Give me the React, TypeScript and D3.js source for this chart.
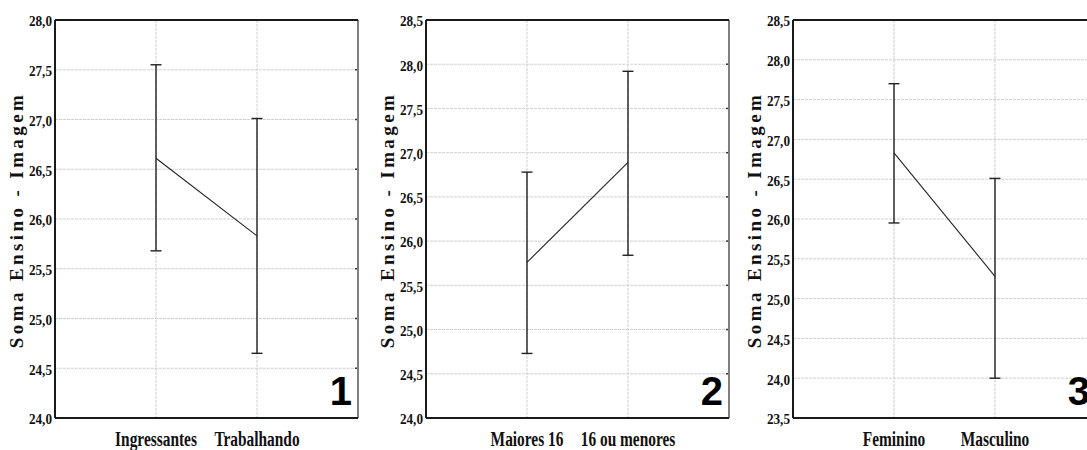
import React from 'react';
import * as d3 from 'd3';

// panel 1
const cats1 = ['Ingressantes', 'Trabalhando'];
const mean1 = [26.61, 25.83];
const upper1 = [27.55, 27.01];
const lower1 = [25.68, 24.65];
const ticks1 = [24.0, 24.5, 25.0, 25.5, 26.0, 26.5, 27.0, 27.5, 28.0];

// panel 2
const cats2 = ['Maiores 16', '16 ou menores'];
const mean2 = [25.76, 26.89];
const upper2 = [26.78, 27.92];
const lower2 = [24.73, 25.84];
const ticks2 = [24.0, 24.5, 25.0, 25.5, 26.0, 26.5, 27.0, 27.5, 28.0, 28.5];

// panel 3
const cats3 = ['Feminino', 'Masculino'];
const mean3 = [26.83, 25.28];
const upper3 = [27.7, 26.51];
const lower3 = [25.95, 24.0];
const ticks3 = [23.5, 24.0, 24.5, 25.0, 25.5, 26.0, 26.5, 27.0, 27.5, 28.0, 28.5];

const yTitle = 'Soma Ensino - Imagem';

const panels = [
  { cats: cats1, mean: mean1, upper: upper1, lower: lower1, ticks: ticks1, num: '1', left: 55 },
  { cats: cats2, mean: mean2, upper: upper2, lower: lower2, ticks: ticks2, num: '2', left: 426 },
  { cats: cats3, mean: mean3, upper: upper3, lower: lower3, ticks: ticks3, num: '3', left: 793 },
];

const top = 20;
const bottom = 418;
const boxW = 303;
const fmt = (v: number) => v.toFixed(1).replace('.', ',');

function Panel({ p }: { p: typeof panels[0] }) {
  const right = p.left + boxW;
  const y = d3
    .scaleLinear()
    .domain([p.ticks[0], p.ticks[p.ticks.length - 1]])
    .range([bottom, top]);
  const x = d3.scalePoint<string>().domain(p.cats).range([p.left, right]).padding(1);

  const line = d3
    .line<number>()
    .x((d, i) => x(p.cats[i]) as number)
    .y((d) => y(d));

  return (
    <g>
      {/* grid */}
      {p.ticks.slice(1, -1).map((t) => (
        <line key={'h' + t} x1={p.left} x2={right} y1={y(t)} y2={y(t)}
          stroke="#cfcfcf" strokeWidth={1} strokeDasharray="3,1" />
      ))}
      {p.cats.map((c) => (
        <line key={'v' + c} x1={x(c)} x2={x(c)} y1={top} y2={bottom}
          stroke="#cfcfcf" strokeWidth={1} strokeDasharray="3,1" />
      ))}
      {/* right side little ticks */}
      {p.ticks.slice(1, -1).map((t) => (
        <line key={'r' + t} x1={right - 3} x2={right} y1={y(t)} y2={y(t)} stroke="#333" strokeWidth={1.5} />
      ))}

      {/* frame */}
      <line x1={right} x2={right} y1={top} y2={bottom} stroke="#808080" strokeWidth={2} />
      <line x1={p.left} x2={right} y1={top} y2={top} stroke="#1a1a1a" strokeWidth={2} />
      <line x1={p.left} x2={right} y1={bottom} y2={bottom} stroke="#1a1a1a" strokeWidth={2} />
      <line x1={p.left} x2={p.left} y1={top} y2={bottom} stroke="#1a1a1a" strokeWidth={2} />

      {/* error bars */}
      {p.cats.map((c, i) => {
        const cx = x(c) as number;
        return (
          <g key={'e' + c} stroke="#222" strokeWidth={1.4}>
            <line x1={cx} x2={cx} y1={y(p.lower[i])} y2={y(p.upper[i])} />
            <line x1={cx - 5.5} x2={cx + 5.5} y1={y(p.upper[i])} y2={y(p.upper[i])} />
            <line x1={cx - 5.5} x2={cx + 5.5} y1={y(p.lower[i])} y2={y(p.lower[i])} />
          </g>
        );
      })}
      <path d={line(p.mean) || ''} fill="none" stroke="#222" strokeWidth={1.1} />

      {/* tick labels */}
      {p.ticks.map((t) => (
        <text key={'t' + t} transform={`translate(${p.left - 3},${y(t) + 1}) scale(0.88,1)`}
          textAnchor="end" dominantBaseline="central"
          fontFamily="Liberation Serif" fontWeight="bold" fontSize={15} fill="#111">
          {fmt(t)}
        </text>
      ))}

      {/* category labels */}
      {p.cats.map((c) => (
        <text key={'c' + c} transform={`translate(${x(c)},446) scale(0.77,1)`} textAnchor="middle"
          fontFamily="Liberation Serif" fontWeight="bold" fontSize={20} fill="#111">
          {c}
        </text>
      ))}

      {/* y title */}
      <text transform={`translate(${p.left - 32},220) rotate(-90)`} textAnchor="middle"
        fontFamily="Liberation Serif" fontWeight="bold" fontSize={19} letterSpacing={3.4} fill="#111">
        {yTitle}
      </text>

      {/* panel number */}
      <text x={right - 6} y={405} textAnchor="end" fontFamily="Liberation Sans" fontWeight="bold"
        fontSize={40} fill="#000">
        {p.num}
      </text>
    </g>
  );
}

export default function App() {
  return (
    <svg width={1087} height={450} style={{ position: 'absolute', left: 0, top: 0, background: '#fff' }}>
      <rect width={1087} height={450} fill="#fff" />
      {panels.map((p) => (
        <Panel key={p.num} p={p} />
      ))}
    </svg>
  );
}
